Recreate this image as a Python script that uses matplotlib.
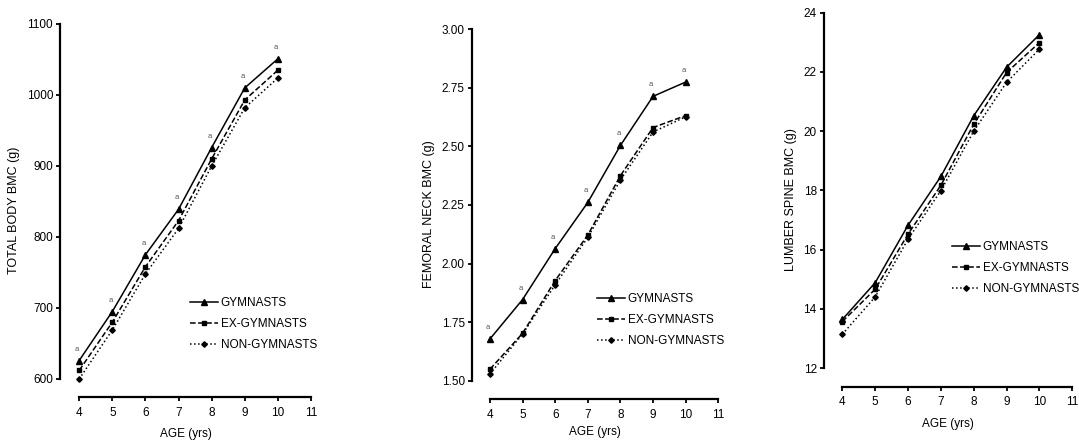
import matplotlib.pyplot as plt
import matplotlib

matplotlib.rcParams['font.family'] = ['Liberation Sans', 'DejaVu Sans']

ages = [4, 5, 6, 7, 8, 9, 10]
labels = ["GYMNASTS", "EX-GYMNASTS", "NON-GYMNASTS"]

tb_gym = [626, 695, 775, 839, 926, 1010, 1051]
tb_ex = [612, 680, 758, 823, 910, 993, 1035]
tb_non = [600, 669, 748, 812, 900, 982, 1024]

fn_gym = [1.679, 1.847, 2.064, 2.261, 2.504, 2.713, 2.774]
fn_ex = [1.550, 1.703, 1.928, 2.122, 2.375, 2.580, 2.631]
fn_non = [1.530, 1.700, 1.910, 2.112, 2.357, 2.561, 2.626]

ls_gym = [13.64, 14.88, 16.82, 18.47, 20.52, 22.16, 23.26]
ls_ex = [13.57, 14.66, 16.52, 18.17, 20.23, 21.98, 22.99]
ls_non = [13.14, 14.40, 16.35, 17.99, 20.00, 21.65, 22.77]

W, H = 1079, 440

# axes box in pixels (left, right, top, bottom) plus limits and labels
panels = [
    dict(px=(60, 311, 24, 397), xlo=3.42, ylo=574.6, yhi=1100,
         yticks=[600, 700, 800, 900, 1000, 1100], fmt="{:.0f}",
         ylabel="TOTAL BODY BMC (g)", data=(tb_gym, tb_ex, tb_non),
         sig=True, leg=(190, 297), xlpad=7),
    dict(px=(471.7, 718.3, 29, 399), xlo=3.44, ylo=1.423, yhi=3.0,
         yticks=[1.50, 1.75, 2.00, 2.25, 2.50, 2.75, 3.00], fmt="{:.2f}",
         ylabel="FEMORAL NECK BMC (g)", data=(fn_gym, fn_ex, fn_non),
         sig=True, leg=(597, 293), xlpad=4),
    dict(px=(823.7, 1072.3, 12.7, 386.7), xlo=3.434, ylo=11.37, yhi=24,
         yticks=[12, 14, 16, 18, 20, 22, 24], fmt="{:.0f}",
         ylabel="LUMBER SPINE BMC (g)", data=(ls_gym, ls_ex, ls_non),
         sig=False, leg=(952, 241), xlpad=7),
]

styles = [dict(ls='-', marker='^', ms=4.8),
          dict(ls='--', marker='s', ms=2.8),
          dict(ls=':', marker='D', ms=2.8)]

fig = plt.figure(figsize=(W / 100, H / 100), dpi=100)

for p in panels:
    l, r, t, b = p['px']
    ax = fig.add_axes([l / W, 1 - b / H, (r - l) / W, (b - t) / H])
    for vals, st, lab in zip(p['data'], styles, labels):
        ax.plot(ages, vals, color='black', lw=1.1, ls=st['ls'],
                marker=st['marker'], ms=st['ms'], label=lab)
    if p['sig']:
        for a, v in zip(ages, p['data'][0]):
            ax.annotate('a', (a, v), xytext=(-2, 8), textcoords='offset pixels',
                        ha='center', va='bottom', fontsize=5.5, color='#555555')
    ax.set_xlim(p['xlo'], 11)
    ax.set_ylim(p['ylo'], p['yhi'])
    ax.set_xticks(range(4, 12))
    ax.set_yticks(p['yticks'])
    ax.set_yticklabels([p['fmt'].format(v) for v in p['yticks']])
    for s in ['top', 'right']:
        ax.spines[s].set_visible(False)
    ax.spines['left'].set_bounds(p['yticks'][0], p['yticks'][-1])
    ax.spines['bottom'].set_bounds(4, 11)
    ax.spines['left'].set_linewidth(1.6)
    ax.spines['bottom'].set_linewidth(1.6)
    ax.tick_params(axis='both', direction='out', length=3, width=1.3,
                   labelsize=8.5, pad=2)
    ax.tick_params(axis='x', pad=4)
    ax.set_xlabel("AGE (yrs)", fontsize=8.5, labelpad=p['xlpad'])
    ax.set_ylabel(p['ylabel'], fontsize=9, labelpad=5)
    ax.patch.set_visible(False)
    lx, ly = p['leg']
    ax.legend(loc='upper left', bbox_to_anchor=(lx / W, 1 - ly / H),
              bbox_transform=fig.transFigure, frameon=False, fontsize=8.5,
              handlelength=2.4, handletextpad=0.2, labelspacing=0.75,
              borderpad=0, borderaxespad=0)

fig.savefig("out.png", dpi=100)
